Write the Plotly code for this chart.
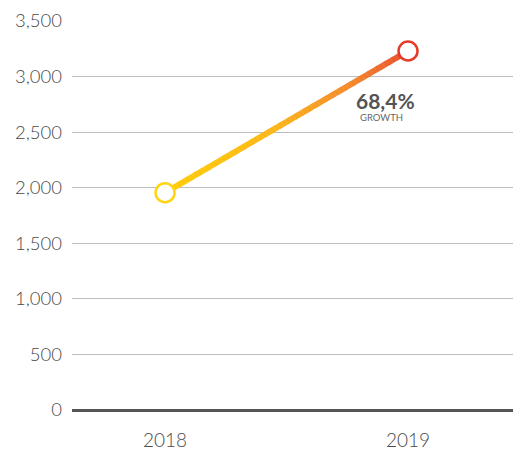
import plotly.graph_objects as go

years = [2018, 2019]
values = [1955, 3230]
growth_label = "68,4%"
growth_sub = "GROWTH"
y_ticks = [0, 500, 1000, 1500, 2000, 2500, 3000, 3500]

stops = [(0.0, (255, 206, 5)), (0.45, (252, 182, 25)), (0.75, (244, 140, 45)), (1.0, (232, 78, 45))]

def color_at(t):
    for (ta, ca), (tb, cb) in zip(stops[:-1], stops[1:]):
        if ta <= t <= tb:
            f = (t - ta) / (tb - ta)
            return tuple(int(round(ca[i] + (cb[i] - ca[i]) * f)) for i in range(3))
    return stops[-1][1]

fig = go.Figure()
n = 60
x0, x1 = years
y0, y1 = values
for i in range(n):
    ta, tb = i / n, min((i + 1.05) / n, 1)
    c = color_at((ta + tb) / 2)
    fig.add_trace(go.Scatter(
        x=[x0 + (x1 - x0) * ta, x0 + (x1 - x0) * tb],
        y=[y0 + (y1 - y0) * ta, y0 + (y1 - y0) * tb],
        mode="lines", line=dict(color="rgb(%d,%d,%d)" % c, width=6),
        hoverinfo="skip", showlegend=False, cliponaxis=False))

fig.add_trace(go.Scatter(
    x=years, y=values, mode="markers", cliponaxis=False, showlegend=False,
    marker=dict(size=19, color="white",
                line=dict(color=["rgb(255,212,20)", "rgb(228,60,40)"], width=2.5))))

fig.add_annotation(x=2019, y=values[1], xref="x", yref="y", text="<b>" + growth_label + "</b>",
                   showarrow=False, xanchor="center", yanchor="middle",
                   xshift=-23, yshift=-49,
                   font=dict(family="Lato, Open Sans, sans-serif", size=21, color="#555"))
fig.add_annotation(x=2019, y=values[1], xref="x", yref="y", text=growth_sub,
                   showarrow=False, xanchor="left", yanchor="middle",
                   xshift=-50, yshift=-66,
                   font=dict(family="Lato, Open Sans, sans-serif", size=9.5, color="#666"))

fig.update_layout(
    width=513, height=452,
    margin=dict(l=72, r=0, t=21, b=42),
    plot_bgcolor="white", paper_bgcolor="white",
    font=dict(family="Lato, Open Sans, sans-serif", color="#555"),
    xaxis=dict(range=[2017.617, 2019.432], tickvals=years, ticktext=[str(y) for y in years],
               showgrid=False, zeroline=False, showline=False,
               tickfont=dict(size=19, color="#4a4a4a", weight=300), ticks="", ticklabelstandoff=17),
    yaxis=dict(range=[0, 3500], tickvals=y_ticks, tickformat=",",
               showgrid=True, gridcolor="#bdbdbd", gridwidth=1,
               zeroline=True, zerolinecolor="#555", zerolinewidth=2.5,
               showline=False, ticks="", ticklabelstandoff=9,
               tickfont=dict(size=18.5, color="#4a4a4a", weight=300)),
)

fig.write_html("out.html", config={"displayModeBar": False},
               post_script="document.body.style.margin='0';document.body.style.overflow='hidden';")
